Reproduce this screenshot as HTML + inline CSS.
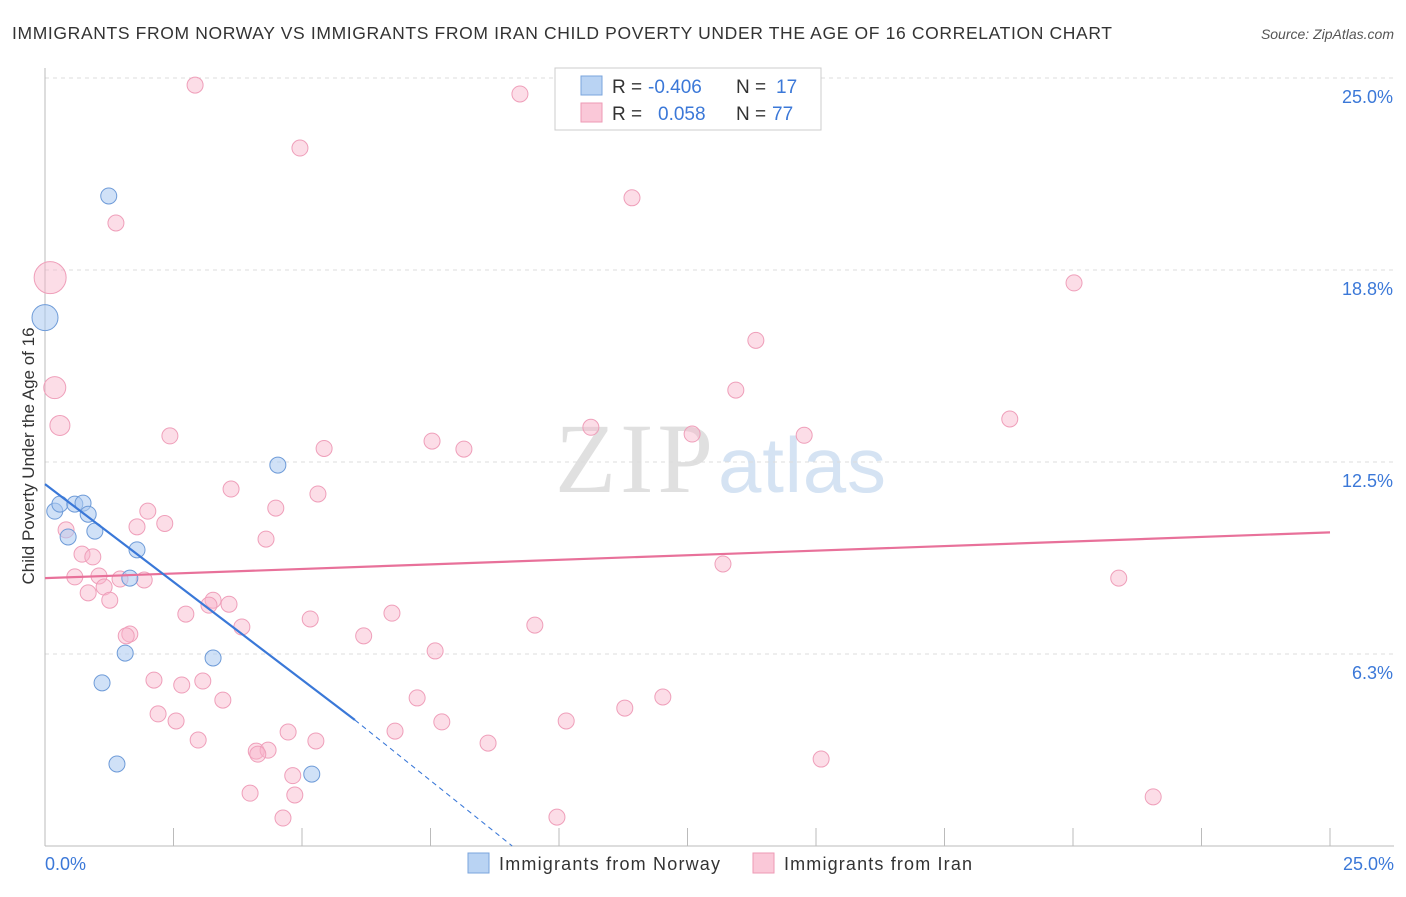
<!DOCTYPE html>
<html><head><meta charset="utf-8"><style>
body{margin:0;background:#fff;font-family:"Liberation Sans",sans-serif;}
</style></head><body>
<svg id="chart" width="1406" height="892" style="font-family:'Liberation Sans',sans-serif">
<text x="12" y="39" font-size="17.5" fill="#333" textLength="1100">IMMIGRANTS FROM NORWAY VS IMMIGRANTS FROM IRAN CHILD POVERTY UNDER THE AGE OF 16 CORRELATION CHART</text>
<text x="1394" y="39" font-size="14" fill="#555" text-anchor="end" font-style="italic">Source: ZipAtlas.com</text>
<text x="555" y="492" font-size="100" fill="#e0e0e0" style="font-family:'Liberation Serif',serif" textLength="158">ZIP</text>
<text x="718" y="492" font-size="78" fill="#d5e3f3" textLength="168">atlas</text>
<g id="grid"></g><g id="marks"></g>
<text transform="translate(34,456) rotate(-90)" font-size="17" fill="#333" text-anchor="middle">Child Poverty Under the Age of 16</text>
<rect x="555" y="68" width="266" height="62" fill="#fff" stroke="#ccc"/>
<rect x="581" y="76" width="21" height="19" fill="#b9d3f3" stroke="#7aa5dd"/>
<rect x="581" y="103" width="21" height="19" fill="#fac8d8" stroke="#ee9ab5"/>
<g font-size="19">
<text x="612" y="93" fill="#333">R =</text><text x="648" y="93" fill="#3b78d8">-0.406</text>
<text x="736" y="93" fill="#333">N =</text><text x="776" y="93" fill="#3b78d8">17</text></g>
<g font-size="19">
<text x="612" y="120" fill="#333">R =</text><text x="658" y="120" fill="#3b78d8">0.058</text>
<text x="736" y="120" fill="#333">N =</text><text x="772" y="120" fill="#3b78d8">77</text></g>
<rect x="468" y="853" width="21" height="20" fill="#b9d3f3" stroke="#7aa5dd"/>
<text x="499" y="870" font-size="18" fill="#333" textLength="221">Immigrants from Norway</text>
<rect x="753" y="853" width="21" height="20" fill="#fac8d8" stroke="#ee9ab5"/>
<text x="784" y="870" font-size="18" fill="#333" textLength="188">Immigrants from Iran</text>
</svg>
<script>
const yTicks=[6.25,12.5,18.75,25];
const yTickLabels=["6.3%","12.5%","18.8%","25.0%"];
const xTickLabels=["0.0%","25.0%"];
const norwayX=[1.24,0,0.19,0.29,0.58,0.74,0.84,0.45,0.97,1.79,1.65,4.53,1.56,3.27,1.11,1.4,5.19];
const norwayY=[21.16,17.2,10.9,11.13,11.13,11.16,10.8,10.06,10.25,9.64,8.72,12.4,6.28,6.12,5.31,2.67,2.34];
const norwaySize=[8,13,8,8,8,8,8,8,8,8,8,8,8,8,8,8,8];
const iranX=[2.92,9.24,4.96,11.42,1.38,0.1,20.02,13.83,0.19,13.44,0.29,2.43,10.62,7.53,12.59,14.77,18.77,5.43,8.15,3.62,5.31,4.49,2.0,2.33,1.79,0.41,4.3,0.72,0.93,0.58,1.05,1.46,1.93,1.15,0.84,13.19,20.89,1.26,3.27,3.58,2.74,3.19,6.75,5.16,3.83,9.53,1.65,1.58,6.2,7.59,2.12,2.66,3.07,3.46,7.24,12.02,2.2,2.55,7.72,10.14,11.28,4.73,6.81,2.98,5.27,8.62,4.11,4.34,4.14,15.1,4.82,3.99,4.86,21.56,4.63,9.96];
const iranY=[24.77,24.48,22.72,21.1,20.28,18.5,18.33,16.46,14.92,14.84,13.69,13.35,13.63,13.18,13.41,13.37,13.9,12.94,12.92,11.62,11.46,11.0,10.9,10.5,10.39,10.29,9.99,9.5,9.41,8.76,8.79,8.69,8.66,8.43,8.24,9.18,8.72,8.0,8.0,7.87,7.55,7.84,7.58,7.39,7.13,7.19,6.9,6.84,6.84,6.35,5.4,5.24,5.37,4.75,4.82,4.85,4.3,4.07,4.04,4.07,4.49,3.71,3.74,3.45,3.42,3.35,3.09,3.12,2.99,2.83,2.29,1.72,1.66,1.6,0.91,0.94];
const iranSize=[8,8,8,8,8,16,8,8,11,8,10,8,8,8,8,8,8,8,8,8,8,8,8,8,8,8,8,8,8,8,8,8,8,8,8,8,8,8,8,8,8,8,8,8,8,8,8,8,8,8,8,8,8,8,8,8,8,8,8,8,8,8,8,8,8,8,8,8,8,8,8,8,8,8,8,8];
const X0=45,X1=1330,Y0=846,Y1=78;
const sx=v=>X0+v/25*(X1-X0), sy=v=>Y0-v/25*(Y0-Y1);
const NS="http://www.w3.org/2000/svg";
const grid=document.getElementById('grid'),marks=document.getElementById('marks');
function mk(tag,at,p){const e=document.createElementNS(NS,tag);for(const k in at)e.setAttribute(k,at[k]);p.appendChild(e);return e;}
yTicks.forEach((t,i)=>{
 const l=mk('line',{x1:X0,x2:1394,y1:sy(t),y2:sy(t),stroke:'#ddd','stroke-dasharray':'4,4'},grid);
 
 
 const tx=mk('text',{x:1393,y:sy(t)+25,'font-size':18,fill:'#3b78d8','text-anchor':'end'},grid);tx.textContent=yTickLabels[i];
 
 
});
const ax=mk('line',{x1:X0,x2:X0,y1:68,y2:Y0,stroke:'#bbb'},grid);


const bx=mk('line',{x1:X0,x2:1394,y1:Y0,y2:Y0,stroke:'#bbb'},grid);


for(let i=0;i<=10;i++){const x=sx(i*2.5);const t=mk('line',{x1:x,x2:x,y1:828,y2:Y0,stroke:'#bbb'},grid);
 
 }
xTickLabels.forEach((s,i)=>{const t=mk('text',{x:i?1394:45,y:870,'font-size':18,fill:'#3b78d8','text-anchor':i?'end':'start'},grid);t.textContent=s;
 
 });
iranX.forEach((v,i)=>{const c=mk('circle',{cx:sx(v),cy:sy(iranY[i]),r:iranSize[i],fill:'rgba(248,180,202,0.45)',stroke:'#ef9fba','stroke-width':1},marks);
 
 });
norwayX.forEach((v,i)=>{const c=mk('circle',{cx:sx(v),cy:sy(norwayY[i]),r:norwaySize[i],fill:'rgba(170,200,240,0.55)',stroke:'#6e9bd8','stroke-width':1},marks);
 
 });
const ti=mk('line',{x1:sx(0),y1:sy(8.72),x2:sx(25),y2:sy(10.21),stroke:'#e8719a','stroke-width':2.2},marks);


const tn=mk('line',{x1:sx(0),y1:sy(11.78),x2:sx(6.03),y2:sy(4.1),stroke:'#3a78d8','stroke-width':2.2},marks);


const td=mk('line',{x1:sx(6.03),y1:sy(4.1),x2:sx(9.09),y2:sy(0),stroke:'#3a78d8','stroke-width':1,'stroke-dasharray':'5,4'},marks);


</script>
</body></html>
